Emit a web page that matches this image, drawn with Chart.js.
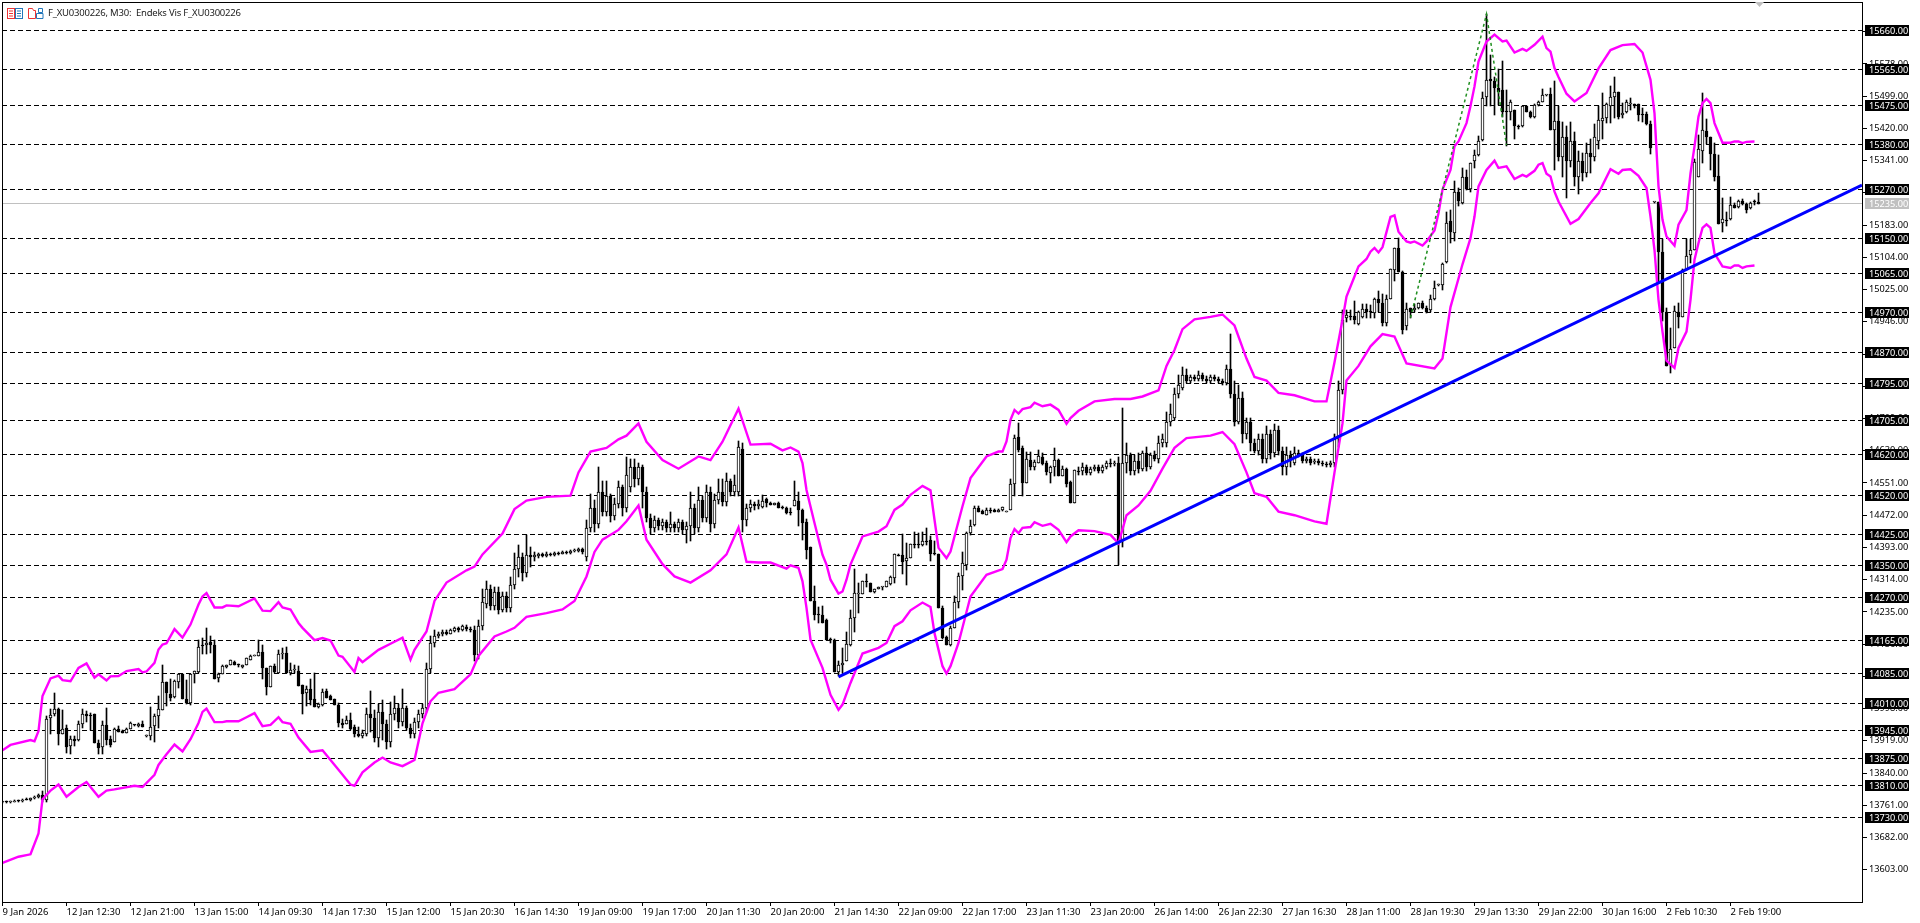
<!DOCTYPE html>
<html>
<head>
<meta charset="utf-8">
<title>F_XU0300226, M30</title>
<script src="https://cdn.jsdelivr.net/npm/chart.js@4/dist/chart.umd.min.js"></script>
<style>
    html, body { margin: 0; background: #fff; overflow: hidden; }
    #wrap { position: relative; width: 1920px; height: 923px; }
    canvas { position: absolute; left: 0; top: 0; }
    #caption { position: absolute; left: 48px; top: 6px; font: 9.5px "Noto Sans", sans-serif; letter-spacing: -0.2px; color: #222; white-space: pre; }
    .icon { position: absolute; top: 8px; }
</style>
</head>
<body>
<div id="wrap">
    <canvas id="chart" width="1920" height="923"></canvas>
    <svg class="icon" style="left:7px" width="16" height="11">
        <rect x="0.5" y="0.5" width="7" height="10" fill="#fff" stroke="#e33"/>
        <path d="M2 3h4M2 5.5h4M2 8h4" stroke="#e33"/>
        <rect x="8.5" y="0.5" width="7" height="10" fill="#fff" stroke="#27b"/>
        <path d="M10 3h4M10 5.5h4M10 8h4" stroke="#27b"/>
    </svg>
    <svg class="icon" style="left:28px" width="16" height="11">
        <path d="M0.5 0.5h4l1 2h2v8h-7z" fill="#fff" stroke="#e33"/>
        <path d="M8.5 5.5h6.5v5h-6.5z" fill="#fff" stroke="#27b"/>
        <path d="M10.5 0.5h4v4h-4z" fill="#fff" stroke="#27b"/>
    </svg>
    <svg style="position:absolute;left:1755px;top:2px" width="9" height="5"><path d="M0 0h9l-4.5 5z" fill="#c0c0c0"/></svg>
    <div id="caption">F_XU0300226, M30:  Endeks Vis F_XU0300226</div>
</div>
<script>
// --- candle data, one value per 30 minute bar
const opens = [
    13768,13769,13768,13770,13772,13771,13775,13774,13778,13782,
    13786,13775,13976,13984,13998,13937,13951,13906,13924,13921,
    13961,13986,13983,13986,13914,13905,13958,13924,13917,13949,
    13943,13939,13949,13958,13955,13961,13931,13931,13955,13980,
    13994,14064,14035,14027,14063,14082,14022,14012,14084,14088,
    14154,14153,14162,14154,14073,14084,14099,14105,14113,14105,
    14099,14105,14117,14128,14127,14137,14098,14051,14102,14086,
    14131,14135,14086,14092,14091,14055,14037,14047,14022,14002,
    14007,14040,14030,14021,14008,13963,13961,13971,13954,13936,
    13932,13935,13985,13975,13925,13990,13960,13915,13985,14000,
    13965,14000,13950,13935,13965,13985,14000,14095,14160,14175,
    14180,14185,14182,14188,14195,14190,14198,14192,14190,14130,
    14200,14255,14290,14250,14285,14240,14275,14245,14300,14340,
    14370,14330,14375,14370,14372,14376,14372,14378,14375,14380,
    14378,14382,14380,14384,14385,14388,14370,14440,14490,14450,
    14530,14480,14520,14470,14500,14540,14490,14540,14590,14560,
    14590,14530,14465,14440,14460,14445,14455,14440,14450,14440,
    14455,14435,14445,14490,14440,14510,14465,14530,14450,14510,
    14530,14505,14555,14530,14530,14635,14460,14490,14500,14495,
    14492,14512,14503,14497,14503,14490,14490,14480,14494,14508,
    14485,14456,14393,14263,14231,14227,14214,14169,14165,14088,
    14106,14114,14155,14220,14280,14279,14310,14306,14283,14291,
    14296,14296,14304,14318,14374,14375,14359,14367,14401,14401,
    14400,14408,14412,14378,14378,14244,14174,14155,14196,14259,
    14324,14349,14428,14449,14490,14483,14473,14483,14485,14480,
    14484,14481,14484,14548,14664,14637,14551,14608,14589,14601,
    14614,14600,14575,14589,14608,14569,14585,14554,14502,14580,
    14580,14590,14575,14585,14590,14580,14590,14600,14598,14600,
    14410,14600,14620,14580,14605,14585,14625,14590,14620,14610,
    14650,14650,14700,14710,14770,14785,14815,14800,14810,14805,
    14815,14805,14800,14810,14805,14800,14795,14830,14770,14700,
    14760,14670,14700,14650,14630,14660,14610,14670,14625,14680,
    14630,14590,14620,14600,14625,14620,14605,14610,14602,14605,
    14600,14598,14596,14600,14660,14780,14955,14958,14961,14940,
    14959,14977,14970,14967,15002,14992,14943,15002,15073,15127,
    15068,14935,14980,14974,14980,14992,14981,14975,15002,15036,
    15036,15093,15194,15163,15264,15237,15300,15272,15339,15355,
    15391,15497,15541,15537,15519,15514,15461,15461,15465,15425,
    15425,15474,15461,15447,15477,15484,15501,15504,15415,15438,
    15351,15400,15340,15390,15300,15340,15310,15360,15350,15390,
    15439,15445,15475,15497,15509,15452,15460,15480,15480,15480,
    15456,15456,15430,15239,15239,15117,14969,14841,14882,14971,
    14957,15072,15109,15121,15300,15365,15414,15398,15357,15304,
    15188,15194,15198,15233,15227,15243,15234,15224,15241,15240
];
const highs = [
    13770,13772,13771,13773,13775,13776,13778,13779,13784,13790,
    13795,13980,13998,14037,14000,13994,13957,13931,13931,13968,
    13996,13992,13988,13986,13922,13968,14000,13931,13951,13955,
    13945,13950,13965,13959,13962,13968,13933,14003,13986,14030,
    14104,14064,14071,14068,14082,14082,14068,14084,14090,14167,
    14170,14196,14175,14166,14086,14104,14106,14117,14114,14108,
    14106,14123,14129,14130,14167,14153,14098,14102,14108,14141,
    14146,14149,14110,14106,14102,14055,14053,14071,14086,14012,
    14045,14045,14032,14022,14012,13973,13980,13988,13957,13954,
    13945,14000,14040,13995,14010,14020,13970,14015,14030,14010,
    14045,14005,13960,13975,13995,14010,14110,14175,14190,14185,
    14190,14190,14194,14198,14198,14204,14202,14198,14200,14215,
    14290,14310,14300,14295,14295,14285,14285,14320,14380,14400,
    14380,14424,14395,14382,14380,14379,14381,14380,14383,14383,
    14385,14385,14387,14389,14391,14392,14460,14525,14510,14590,
    14555,14555,14525,14515,14555,14545,14615,14610,14610,14600,
    14595,14540,14475,14470,14465,14462,14460,14480,14455,14462,
    14460,14455,14530,14500,14540,14520,14545,14540,14525,14560,
    14560,14575,14560,14570,14655,14650,14500,14510,14505,14510,
    14522,14514,14505,14503,14505,14495,14491,14490,14556,14529,
    14487,14463,14395,14299,14247,14250,14218,14171,14169,14114,
    14147,14187,14240,14340,14307,14310,14329,14307,14292,14296,
    14296,14311,14322,14377,14376,14426,14404,14401,14431,14428,
    14432,14441,14420,14408,14378,14250,14176,14200,14273,14330,
    14382,14430,14461,14495,14495,14484,14490,14490,14487,14488,
    14492,14482,14561,14669,14698,14642,14628,14628,14608,14631,
    14624,14604,14592,14637,14610,14592,14588,14555,14584,14589,
    14600,14595,14590,14595,14595,14595,14605,14610,14606,14615,
    14735,14650,14625,14620,14625,14630,14640,14625,14630,14665,
    14670,14725,14745,14785,14815,14835,14830,14815,14815,14825,
    14820,14812,14815,14815,14810,14805,14840,14916,14800,14790,
    14775,14710,14710,14660,14670,14670,14690,14680,14695,14690,
    14640,14640,14630,14640,14632,14625,14615,14615,14610,14610,
    14605,14602,14605,14670,14800,14975,14975,14975,14998,14972,
    14989,14989,14988,15004,15022,15014,15012,15076,15127,15151,
    15070,14992,14980,14990,14993,14997,14985,15012,15046,15038,
    15090,15216,15219,15290,15274,15323,15318,15335,15368,15402,
    15510,15701,15600,15546,15566,15586,15514,15490,15466,15429,
    15476,15476,15462,15479,15486,15516,15502,15519,15536,15474,
    15435,15425,15435,15410,15365,15360,15385,15395,15430,15475,
    15506,15483,15523,15545,15510,15482,15490,15494,15481,15480,
    15470,15459,15437,15240,15239,15149,14980,14931,14984,14992,
    15076,15149,15149,15345,15404,15506,15443,15398,15384,15355,
    15249,15216,15253,15236,15245,15247,15238,15239,15245,15261
];
const lows = [
    13766,13767,13766,13768,13770,13769,13773,13772,13776,13780,
    13770,13770,13935,13980,13908,13937,13890,13886,13906,13919,
    13951,13965,13945,13914,13886,13886,13908,13905,13915,13941,
    13938,13938,13947,13956,13954,13953,13929,13920,13915,13951,
    13994,14004,14016,14025,14049,14022,14010,14008,14061,14086,
    14131,14131,14135,14071,14063,14082,14098,14104,14104,14100,
    14098,14104,14116,14126,14127,14071,14031,14051,14086,14086,
    14120,14086,14080,14085,14053,13986,14004,14007,14002,13999,
    14004,14023,14018,14007,13953,13950,13961,13945,13929,13929,
    13925,13930,13940,13915,13905,13920,13900,13905,13970,13950,
    13955,13945,13925,13925,13950,13975,13990,14085,14150,14170,
    14175,14178,14180,14185,14186,14188,14188,14186,14115,14120,
    14190,14245,14240,14240,14230,14235,14235,14235,14290,14320,
    14310,14320,14345,14360,14368,14369,14370,14372,14373,14375,
    14376,14377,14378,14382,14383,14378,14360,14430,14430,14440,
    14470,14470,14455,14460,14490,14470,14480,14530,14540,14545,
    14490,14455,14425,14430,14435,14435,14430,14430,14430,14430,
    14425,14405,14410,14425,14430,14455,14455,14430,14440,14500,
    14495,14495,14520,14520,14520,14430,14445,14480,14485,14488,
    14490,14492,14496,14496,14489,14488,14476,14472,14494,14445,
    14412,14365,14261,14216,14209,14208,14165,14160,14087,14077,
    14085,14114,14151,14185,14232,14279,14296,14283,14282,14290,
    14288,14295,14302,14307,14372,14329,14302,14367,14392,14392,
    14396,14400,14361,14374,14244,14169,14154,14152,14195,14245,
    14289,14337,14424,14446,14480,14474,14472,14478,14479,14479,
    14483,14480,14484,14518,14628,14520,14551,14583,14583,14600,
    14596,14571,14551,14567,14567,14567,14541,14502,14502,14571,
    14570,14570,14570,14580,14575,14575,14585,14590,14592,14350,
    14395,14575,14570,14570,14575,14580,14580,14585,14605,14600,
    14640,14640,14690,14705,14760,14780,14795,14795,14800,14800,
    14800,14795,14795,14800,14795,14790,14790,14760,14690,14695,
    14650,14660,14630,14625,14620,14600,14600,14610,14615,14620,
    14570,14570,14590,14595,14615,14600,14600,14595,14598,14595,
    14593,14590,14590,14590,14640,14770,14945,14950,14940,14938,
    14955,14955,14955,14955,14970,14935,14935,15001,15047,15067,
    14915,14925,14955,14970,14978,14978,14968,14971,15000,15034,
    15023,15090,15140,15145,15229,15235,15268,15265,15324,15353,
    15390,15474,15474,15453,15478,15448,15378,15441,15394,15418,
    15423,15460,15445,15446,15474,15484,15500,15415,15317,15340,
    15300,15250,15325,15280,15260,15290,15300,15310,15340,15370,
    15394,15433,15433,15445,15443,15445,15458,15464,15470,15437,
    15435,15429,15357,15238,15040,14947,14837,14820,14882,14931,
    14957,15072,15090,15121,15300,15335,15381,15318,15292,15185,
    15167,15182,15196,15224,15225,15232,15212,15222,15232,15234
];
const closes = [
    13769,13768,13770,13772,13771,13775,13774,13778,13782,13786,
    13775,13973,13982,13998,13935,13949,13904,13924,13919,13961,
    13986,13980,13980,13914,13902,13958,13921,13908,13949,13941,
    13939,13949,13962,13957,13961,13953,13931,13953,13980,13998,
    14064,14037,14025,14066,14082,14022,14012,14084,14090,14149,
    14151,14159,14154,14071,14084,14102,14105,14116,14105,14104,
    14105,14122,14128,14128,14137,14098,14052,14102,14088,14132,
    14135,14086,14092,14092,14053,14034,14047,14019,14002,14010,
    14039,14025,14019,14008,13963,13959,13971,13947,13935,13931,
    13938,13985,13975,13925,13990,13960,13915,13985,14000,13965,
    14000,13950,13935,13965,13985,14000,14095,14160,14175,14180,
    14185,14180,14190,14195,14190,14200,14192,14190,14130,14200,
    14260,14290,14250,14285,14240,14275,14245,14300,14340,14370,
    14330,14375,14370,14375,14376,14372,14378,14375,14380,14378,
    14382,14380,14384,14386,14388,14382,14440,14490,14450,14530,
    14480,14520,14470,14500,14540,14490,14570,14590,14560,14590,
    14530,14465,14440,14460,14445,14455,14440,14450,14440,14455,
    14435,14445,14490,14440,14510,14465,14530,14450,14510,14530,
    14505,14555,14530,14545,14640,14460,14490,14500,14495,14500,
    14508,14502,14497,14502,14490,14489,14477,14477,14510,14485,
    14454,14387,14261,14227,14227,14209,14165,14167,14087,14104,
    14111,14156,14220,14281,14281,14310,14309,14283,14291,14295,
    14296,14310,14320,14377,14373,14357,14367,14401,14400,14400,
    14409,14407,14378,14377,14244,14170,14155,14196,14259,14324,
    14355,14428,14445,14490,14481,14475,14484,14482,14480,14486,
    14491,14481,14548,14661,14631,14551,14610,14589,14603,14618,
    14598,14577,14590,14608,14569,14585,14549,14502,14582,14579,
    14590,14575,14585,14590,14580,14590,14600,14598,14600,14410,
    14600,14620,14580,14605,14585,14625,14590,14620,14610,14650,
    14660,14700,14720,14770,14790,14815,14800,14810,14805,14815,
    14805,14800,14810,14805,14800,14795,14830,14770,14700,14760,
    14670,14700,14650,14630,14660,14610,14670,14625,14680,14630,
    14590,14620,14610,14625,14620,14605,14610,14600,14605,14600,
    14598,14596,14600,14660,14780,14950,14962,14957,14950,14970,
    14977,14970,14969,15002,14992,14943,15002,15075,15127,15067,
    14925,14977,14971,14980,14992,14981,14971,15002,15030,15036,
    15087,15188,15166,15264,15241,15300,15271,15335,15355,15388,
    15494,15539,15535,15519,15510,15459,15460,15484,15425,15424,
    15475,15461,15447,15478,15484,15501,15501,15415,15439,15351,
    15400,15340,15390,15300,15340,15310,15360,15350,15400,15440,
    15445,15480,15497,15509,15448,15457,15484,15480,15475,15452,
    15452,15431,15373,15239,15117,14969,14837,14879,14973,14957,
    15072,15108,15122,15337,15369,15415,15398,15357,15302,15185,
    15198,15193,15233,15225,15243,15234,15220,15237,15240,15234
];

// --- envelope bands: bar number and price of each corner
const upperBars = [0,2,7,8,9,10,12,14,15,17,19,21,23,24,26,27,29,31,34,35,36,38,39,40,41,43,45,47,49,50,51,53,55,56,59,63,65,67,69,70,72,74,75,78,80,82,84,85,88,89,90,92,94,97,100,102,103,106,108,111,116,118,120,125,128,131,136,142,144,147,151,154,156,159,161,165,169,174,177,180,184,187,192,195,197,199,200,201,203,205,206,207,209,210,211,212,215,219,221,223,225,227,230,232,233,234,236,237,240,242,246,249,250,251,252,253,254,255,257,258,260,262,264,266,267,269,273,278,282,285,289,291,293,295,298,302,305,308,311,313,316,319,323,328,331,333,335,336,338,339,341,342,343,344,345,347,348,349,351,352,353,355,356,358,359,360,362,363,364,366,367,368,369,371,373,375,376,378,380,381,383,385,386,387,388,389,391,393,396,399,402,405,408,410,412,413,414,415,416,418,419,421,422,423,424,425,426,427,428,430,432,433,434,435,436,438];
const upperPrices = [13896,13909,13921,13918,13943,14029,14072,14079,14068,14065,14098,14109,14074,14082,14067,14077,14078,14090,14095,14087,14089,14110,14143,14155,14158,14193,14172,14204,14253,14273,14281,14246,14246,14251,14249,14268,14238,14237,14259,14246,14241,14208,14196,14166,14171,14165,14128,14125,14088,14122,14112,14127,14142,14157,14172,14118,14142,14187,14262,14307,14337,14346,14376,14427,14487,14508,14517,14520,14577,14628,14637,14658,14667,14697,14652,14607,14586,14616,14607,14652,14733,14645,14647,14631,14638,14628,14600,14534,14453,14375,14351,14314,14280,14285,14314,14351,14420,14432,14445,14485,14498,14522,14544,14533,14461,14392,14367,14383,14494,14563,14616,14628,14628,14653,14706,14730,14721,14732,14737,14748,14739,14743,14730,14696,14710,14728,14751,14757,14757,14763,14778,14838,14877,14928,14952,14958,14964,14937,14856,14811,14802,14772,14766,14751,14751,14847,14951,15008,15057,15082,15100,15118,15127,15116,15129,15203,15207,15167,15143,15140,15143,15133,15143,15170,15212,15270,15318,15376,15388,15433,15475,15523,15584,15633,15650,15633,15635,15606,15615,15610,15625,15645,15617,15608,15568,15546,15505,15486,15507,15567,15612,15624,15627,15606,15539,15457,15278,15196,15155,15133,15184,15220,15310,15376,15449,15482,15492,15482,15433,15385,15385,15388,15388,15384,15387,15388];
const lowerBars = [0,4,7,9,10,12,14,16,19,21,24,26,28,33,35,38,39,41,43,45,47,49,50,51,53,55,56,59,61,63,65,67,69,70,72,74,77,80,84,87,88,90,93,95,97,100,103,105,107,109,113,117,119,123,126,128,131,136,140,143,146,148,150,154,156,159,161,165,168,172,177,181,184,186,189,192,196,197,199,200,201,202,205,207,209,210,212,215,219,221,223,225,227,230,232,233,235,236,237,239,242,246,250,251,252,253,254,255,257,258,260,262,264,266,267,269,273,277,279,281,284,287,290,293,296,302,305,308,311,313,316,319,323,328,331,333,335,336,339,342,345,348,351,358,360,362,365,367,368,369,371,373,374,376,378,380,381,383,384,385,386,387,388,389,392,394,397,399,402,404,405,407,409,411,412,413,414,415,416,418,419,421,422,423,424,425,426,427,428,430,432,433,434,435,436,438];
const lowerPrices = [13620,13635,13641,13692,13776,13797,13812,13782,13806,13818,13782,13797,13800,13809,13806,13836,13860,13886,13910,13893,13923,13963,13990,13998,13965,13965,13967,13967,13977,13987,13955,13958,13977,13965,13961,13927,13892,13896,13848,13812,13809,13842,13866,13878,13866,13857,13872,13962,14016,14037,14046,14082,14127,14175,14187,14196,14223,14232,14241,14262,14322,14382,14412,14436,14457,14496,14412,14352,14322,14307,14337,14376,14442,14358,14356,14356,14341,14349,14343,14310,14245,14167,14098,14032,13995,14008,14061,14133,14147,14159,14200,14212,14239,14258,14247,14183,14102,14084,14102,14159,14273,14326,14340,14363,14416,14438,14428,14441,14443,14455,14446,14451,14436,14406,14420,14435,14433,14424,14403,14472,14496,14532,14586,14637,14661,14667,14676,14646,14577,14526,14517,14481,14472,14457,14451,14577,14697,14802,14838,14886,14916,14910,14844,14832,14856,14982,15087,15151,15204,15278,15318,15341,15323,15327,15296,15306,15302,15316,15331,15335,15309,15302,15265,15241,15186,15198,15237,15261,15320,15309,15318,15320,15304,15274,15204,15122,15000,14922,14851,14833,14882,14922,15000,15098,15139,15176,15185,15176,15114,15082,15078,15084,15084,15078,15082,15084];

// --- hand drawn objects
const trendBars = [209, 464.875];
const trendPrices = [14076, 15281];
const zigzagBars = [352, 371, 376];
const zigzagPrices = [14956, 15700, 15379];

// --- horizontal levels and axis labels
const levels = [15660,15565,15475,15380,15270,15150,15065,14970,14870,14795,14705,14620,14520,14425,14350,14270,14165,14085,14010,13945,13875,13810,13730];
const lastPrice = 15235;
const priceTicks = [13603,13682,13761,13840,13919,13998,14077,14156,14235,14314,14393,14472,14551,14630,14709,14788,14867,14946,15025,15104,15183,15262,15341,15420,15499,15578,15657];
const timeLabels = ["9 Jan 2026","12 Jan 12:30","12 Jan 21:00","13 Jan 15:00","14 Jan 09:30","14 Jan 17:30","15 Jan 12:00","15 Jan 20:30","16 Jan 14:30","19 Jan 09:00","19 Jan 17:00","20 Jan 11:30","20 Jan 20:00","21 Jan 14:30","22 Jan 09:00","22 Jan 17:00","23 Jan 11:30","23 Jan 20:00","26 Jan 14:00","26 Jan 22:30","27 Jan 16:30","28 Jan 11:00","28 Jan 19:30","29 Jan 13:30","29 Jan 22:00","30 Jan 16:00","2 Feb 10:30","2 Feb 19:00"];

const BARS_PER_LABEL = 16;
const X_MIN = -0.125;
const X_MAX = 464.875;
const TIME_FONT = { family: '"Noto Sans", sans-serif', size: 9.5 };
const PRICE_FONT = { family: '"Noto Sans", sans-serif', size: 9.2 };

function pairUp(xs, ys) {
    return xs.map(function (x, i) { return { x: x, y: ys[i] }; });
}

function levelLine(price, color, dash) {
    return {
        type: 'line',
        label: 'level',
        data: [{ x: X_MIN, y: price }, { x: X_MAX, y: price }],
        borderColor: color,
        borderWidth: 1,
        borderDash: dash,
        pointRadius: 0,
        order: 6
    };
}

function bandLine(xs, ys) {
    return {
        type: 'line',
        data: pairUp(xs, ys),
        borderColor: '#ff00ff',
        borderWidth: 2.4,
        pointRadius: 0,
        order: 3
    };
}

const datasets = levels.map(function (p) { return levelLine(p, '#000', [5, 3]); });
datasets.push(levelLine(lastPrice, '#c0c0c0', []));
datasets.push({
    type: 'bar',
    data: opens.map(function (o, i) { return { x: i, y: [lows[i], highs[i]] }; }),
    backgroundColor: '#000',
    barThickness: 1,
    grouped: false,
    order: 5
});
datasets.push({
    type: 'bar',
    data: opens.map(function (o, i) { return { x: i, y: [o, closes[i]] }; }),
    backgroundColor: opens.map(function (o, i) { return closes[i] >= o ? '#fff' : '#000'; }),
    borderColor: '#000',
    borderWidth: 1,
    borderSkipped: false,
    barThickness: 3,
    minBarLength: 1,
    grouped: false,
    order: 4
});
datasets.push(bandLine(upperBars, upperPrices));
datasets.push(bandLine(lowerBars, lowerPrices));
datasets.push({
    type: 'line',
    data: pairUp(zigzagBars, zigzagPrices),
    borderColor: '#1f8f1f',
    borderWidth: 1.5,
    borderDash: [3, 3],
    pointRadius: 0,
    order: 2
});
datasets.push({
    type: 'line',
    data: pairUp(trendBars, trendPrices),
    borderColor: '#0000ff',
    borderWidth: 3,
    pointRadius: 0,
    order: 1
});

// keep candles and levels on whole pixels, like the terminal does
const snapPixels = {
    id: 'snapPixels',
    afterDatasetsUpdate: function (chart) {
        chart.getSortedVisibleDatasetMetas().forEach(function (meta) {
            if (meta.type === 'bar') {
                meta.data.forEach(function (el) {
                    const top = Math.round(Math.min(el.y, el.base));
                    const bottom = Math.round(Math.max(el.y, el.base));
                    el.y = top;
                    el.base = bottom > top ? bottom : top + 1;
                });
            } else if (meta.controller.getDataset().label === 'level') {
                meta.data.forEach(function (el) { el.y = Math.floor(el.y) + 0.5; });
            }
        });
    }
};

function priceTag(chart, price, fill) {
    const ctx = chart.ctx;
    const y = Math.floor(chart.scales.y.getPixelForValue(price)) + 0.5;
    const right = chart.chartArea.right;
    ctx.fillStyle = fill;
    ctx.fillRect(right + 3, y - 5.5, 44, 11);
    ctx.fillStyle = '#fff';
    ctx.textAlign = 'left';
    ctx.textBaseline = 'middle';
    ctx.fillText(price.toFixed(2), right + 7, y + 0.5);
}

// chart frame and the price tags on the right axis
const frameAndTags = {
    id: 'frameAndTags',
    afterDraw: function (chart) {
        const ctx = chart.ctx;
        const a = chart.chartArea;
        ctx.save();
        ctx.strokeStyle = '#000';
        ctx.lineWidth = 1;
        ctx.strokeRect(a.left + 0.5, a.top + 0.5, a.right - a.left, a.bottom - a.top);
        ctx.font = PRICE_FONT.size + 'px ' + PRICE_FONT.family;
        levels.forEach(function (p) { priceTag(chart, p, '#000'); });
        priceTag(chart, lastPrice, '#c0c0c0');
        ctx.restore();
    }
};

new Chart(document.getElementById('chart'), {
    data: { datasets: datasets },
    plugins: [snapPixels, frameAndTags],
    options: {
        responsive: false,
        devicePixelRatio: 1,
        animation: false,
        events: [],
        layout: { autoPadding: false, padding: { left: 2, top: 2, right: 0, bottom: 0 } },
        plugins: { legend: { display: false }, tooltip: { enabled: false } },
        scales: {
            x: {
                type: 'linear',
                bounds: 'data',
                offset: false,
                min: X_MIN,
                max: X_MAX,
                afterBuildTicks: function (scale) {
                    scale.ticks = timeLabels.map(function (t, k) { return { value: k * BARS_PER_LABEL }; });
                },
                // tick labels must not push the plot area in
                afterFit: function (scale) {
                    scale.height = 21;
                    scale.paddingLeft = 0;
                    scale.paddingRight = 0;
                },
                grid: { offset: false, drawOnChartArea: false, color: '#000', tickLength: 4 },
                border: { color: '#000' },
                ticks: {
                    autoSkip: false,
                    maxRotation: 0,
                    align: 'start',
                    padding: 1,
                    color: '#000',
                    font: TIME_FONT,
                    callback: function (v) { return timeLabels[v / BARS_PER_LABEL]; }
                }
            },
            y: {
                position: 'right',
                bounds: 'data',
                min: 13524.1,
                max: 15729.8,
                afterBuildTicks: function (scale) {
                    scale.ticks = priceTicks.map(function (p) { return { value: p }; });
                },
                afterFit: function (scale) {
                    scale.width = 58;
                    scale.paddingTop = 0;
                    scale.paddingBottom = 0;
                },
                grid: { drawOnChartArea: false, color: '#000', tickLength: 5 },
                border: { color: '#000' },
                ticks: {
                    autoSkip: false,
                    padding: 2,
                    color: '#000',
                    font: PRICE_FONT,
                    callback: function (v) { return v.toFixed(2); }
                }
            }
        }
    }
});
</script>
</body>
</html>
